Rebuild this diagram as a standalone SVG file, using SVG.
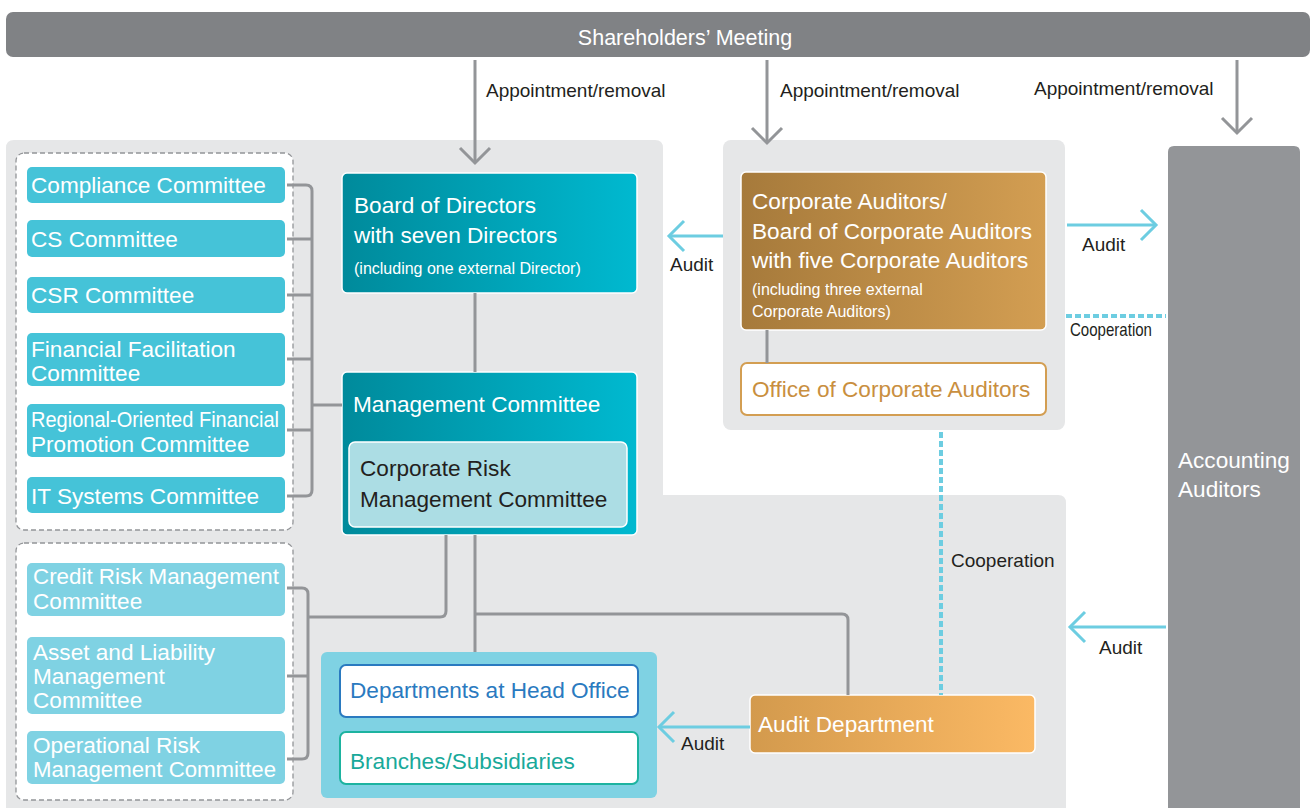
<svg xmlns="http://www.w3.org/2000/svg" width="1312" height="808" viewBox="0 0 1312 808">
<defs>
<linearGradient id="gTeal" x1="0" y1="0" x2="1" y2="0"><stop offset="0" stop-color="#008a9b"/><stop offset="1" stop-color="#00b9d0"/></linearGradient>
<linearGradient id="gGold" x1="0" y1="0" x2="1" y2="0"><stop offset="0" stop-color="#a67a3b"/><stop offset="1" stop-color="#d39e52"/></linearGradient>
<linearGradient id="gOrange" x1="0" y1="0" x2="1" y2="0"><stop offset="0" stop-color="#d39a4d"/><stop offset="1" stop-color="#fbb964"/></linearGradient>
<marker id="chevG" viewBox="0 0 20 34" refX="17" refY="17" markerWidth="20" markerHeight="34" markerUnits="userSpaceOnUse" orient="auto"><path d="M2,2 L17,17 L2,32" fill="none" stroke="#939598" stroke-width="3"/></marker>
<marker id="chevC" viewBox="0 0 20 34" refX="17" refY="17" markerWidth="20" markerHeight="34" markerUnits="userSpaceOnUse" orient="auto"><path d="M2,2 L17,17 L2,32" fill="none" stroke="#6dcde1" stroke-width="3"/></marker>
<style>
text{font-family:"Liberation Sans",Arial,sans-serif}
.w{fill:#fff}
.big{font-size:22.6px}
.sm{font-size:16px}
.lbl{font-size:19px;fill:#231f20}
.c1{fill:#45c3d8}
.c2{fill:#7fd2e3}
.dash{fill:#fff;stroke:#939598;stroke-width:1.3;stroke-dasharray:5 3}
.gl{fill:none;stroke:#939598;stroke-width:3}
.cl{fill:none;stroke:#6dcde1;stroke-width:3}
.dl{fill:none;stroke:#6dcde1;stroke-width:4;stroke-dasharray:6 3}
.wb{stroke:#fff;stroke-width:1.5}
</style>
</defs>

<g id="background">
<path d="M14,140 H655 Q663,140 663,148 V495 H1058 Q1066,495 1066,503 V808 H6 V148 Q6,140 14,140 Z" fill="#e6e7e8"/>
<rect x="723" y="140" width="342" height="290" rx="8" fill="#e6e7e8"/>
</g>

<g id="shareholders">
<rect x="6" y="12" width="1304" height="45" rx="7" fill="#808285"/>
<text x="685" y="45" text-anchor="middle" class="w" font-size="21.5">Shareholders’ Meeting</text>
</g>

<g id="accounting-auditors">
<path d="M1174,146 H1294 Q1300,146 1300,152 V808 H1168 V152 Q1168,146 1174,146 Z" fill="#939598"/>
<text class="w big"><tspan x="1178" y="468">Accounting</tspan><tspan x="1178" y="497">Auditors</tspan></text>
</g>

<g id="committees-group1">
<rect x="16" y="153" width="277" height="377" rx="8" class="dash"/>
<g id="compliance"><rect x="27" y="167" width="258" height="36" rx="5" class="c1"/><text x="31" y="193" class="w big">Compliance Committee</text></g>
<g id="cs"><rect x="27" y="220" width="258" height="37" rx="5" class="c1"/><text x="31" y="247" class="w big">CS Committee</text></g>
<g id="csr"><rect x="27" y="277" width="258" height="36" rx="5" class="c1"/><text x="31" y="303" class="w big">CSR Committee</text></g>
<g id="financial"><rect x="27" y="333" width="258" height="53" rx="5" class="c1"/><text class="w big"><tspan x="31" y="357">Financial Facilitation</tspan><tspan x="31" y="381">Committee</tspan></text></g>
<g id="regional"><rect x="27" y="404" width="258" height="53" rx="5" class="c1"/><text class="w big"><tspan x="31" y="427" textLength="248" lengthAdjust="spacingAndGlyphs">Regional-Oriented Financial</tspan><tspan x="31" y="452">Promotion Committee</tspan></text></g>
<g id="it"><rect x="27" y="477" width="258" height="36" rx="5" class="c1"/><text x="31" y="504" class="w big">IT Systems Committee</text></g>
</g>

<g id="committees-group2">
<rect x="16" y="543" width="277" height="257" rx="8" class="dash"/>
<g id="credit"><rect x="27" y="563" width="258" height="53" rx="5" class="c2"/><text class="w big"><tspan x="33" y="584" textLength="246" lengthAdjust="spacingAndGlyphs">Credit Risk Management</tspan><tspan x="33" y="609">Committee</tspan></text></g>
<g id="alm"><rect x="27" y="637" width="258" height="77" rx="5" class="c2"/><text class="w big"><tspan x="33" y="660">Asset and Liability</tspan><tspan x="33" y="684">Management</tspan><tspan x="33" y="708">Committee</tspan></text></g>
<g id="operational"><rect x="27" y="731" width="258" height="53" rx="5" class="c2"/><text class="w big"><tspan x="33" y="753">Operational Risk</tspan><tspan x="33" y="777" textLength="243" lengthAdjust="spacingAndGlyphs">Management Committee</tspan></text></g>
</g>

<g id="board">
<rect x="342" y="173" width="295" height="120" rx="5" fill="url(#gTeal)" class="wb"/>
<text class="w big"><tspan x="354" y="213">Board of Directors</tspan><tspan x="354" y="243">with seven Directors</tspan></text>
<text x="354" y="274" class="w sm">(including one external Director)</text>
</g>

<g id="management">
<rect x="342" y="372" width="295" height="163" rx="5" fill="url(#gTeal)" class="wb"/>
<text x="353" y="412" class="w big">Management Committee</text>
<g id="corporate-risk">
<rect x="349" y="442" width="278" height="85" rx="6" fill="#acdde4" class="wb"/>
<text class="big" fill="#231f20"><tspan x="360" y="476">Corporate Risk</tspan><tspan x="360" y="507">Management Committee</tspan></text>
</g>
</g>

<g id="corporate-auditors">
<rect x="741" y="172" width="305" height="158" rx="5" fill="url(#gGold)" class="wb"/>
<text class="w big"><tspan x="752" y="209">Corporate Auditors/</tspan><tspan x="752" y="239">Board of Corporate Auditors</tspan><tspan x="752" y="268">with five Corporate Auditors</tspan></text>
<text class="w sm"><tspan x="752" y="295">(including three external</tspan><tspan x="752" y="317">Corporate Auditors)</tspan></text>
</g>

<g id="office-auditors">
<rect x="741" y="363" width="305" height="52" rx="6" fill="#fff" stroke="#d39e52" stroke-width="2"/>
<text x="752" y="397" class="big" fill="#c98f3f">Office of Corporate Auditors</text>
</g>

<g id="departments">
<rect x="321" y="652" width="336" height="146" rx="6" fill="#7fd2e3"/>
<g id="head-office"><rect x="340" y="665" width="298" height="52" rx="6" fill="#fff" stroke="#2a7ac0" stroke-width="2"/><text x="350" y="698" class="big" fill="#2a7ac0">Departments at Head Office</text></g>
<g id="branches"><rect x="340" y="732" width="298" height="52" rx="6" fill="#fff" stroke="#1db3a0" stroke-width="2"/><text x="350" y="769" class="big" fill="#19a99a">Branches/Subsidiaries</text></g>
</g>

<g id="audit-department">
<rect x="750" y="695" width="285" height="58" rx="5" fill="url(#gOrange)" class="wb"/>
<text x="758" y="732" class="w big">Audit Department</text>
</g>

<g id="connectors">
<path class="gl" d="M475,60 V163" marker-end="url(#chevG)"/>
<path class="gl" d="M767,60 V143" marker-end="url(#chevG)"/>
<path class="gl" d="M1237,60 V133" marker-end="url(#chevG)"/>
<path class="gl" d="M287,185 H306 Q312,185 312,191 V490 Q312,496 306,496 H287 M287,239 H312 M287,295 H312 M287,359 H312 M287,430 H312 M312,405 H342"/>
<path class="gl" d="M287,588 H302 Q308,588 308,594 V753 Q308,759 302,759 H287 M287,676 H308 M308,617 H440 Q446,617 446,611 V535"/>
<path class="gl" d="M475,293 V372"/>
<path class="gl" d="M475,535 V652 M475,614 H842 Q848,614 848,620 V695"/>
<path class="gl" d="M767,330 V363"/>
<path class="cl" d="M723,236 H669" marker-end="url(#chevC)"/>
<path class="cl" d="M1067,225 H1156" marker-end="url(#chevC)"/>
<path class="cl" d="M1166,627 H1070" marker-end="url(#chevC)"/>
<path class="cl" d="M750,727 H659" marker-end="url(#chevC)"/>
<path class="dl" d="M1066,316 H1166"/>
<path class="dl" d="M941,432 V695"/>
<text x="486" y="97" class="lbl">Appointment/removal</text>
<text x="780" y="97" class="lbl">Appointment/removal</text>
<text x="1034" y="95" class="lbl">Appointment/removal</text>
<text x="670" y="271" class="lbl">Audit</text>
<text x="1082" y="251" class="lbl">Audit</text>
<text x="1070" y="336" class="lbl" font-size="16" textLength="82" lengthAdjust="spacingAndGlyphs">Cooperation</text>
<text x="951" y="567" class="lbl" font-size="18">Cooperation</text>
<text x="1099" y="654" class="lbl">Audit</text>
<text x="681" y="750" class="lbl">Audit</text>
</g>
</svg>
